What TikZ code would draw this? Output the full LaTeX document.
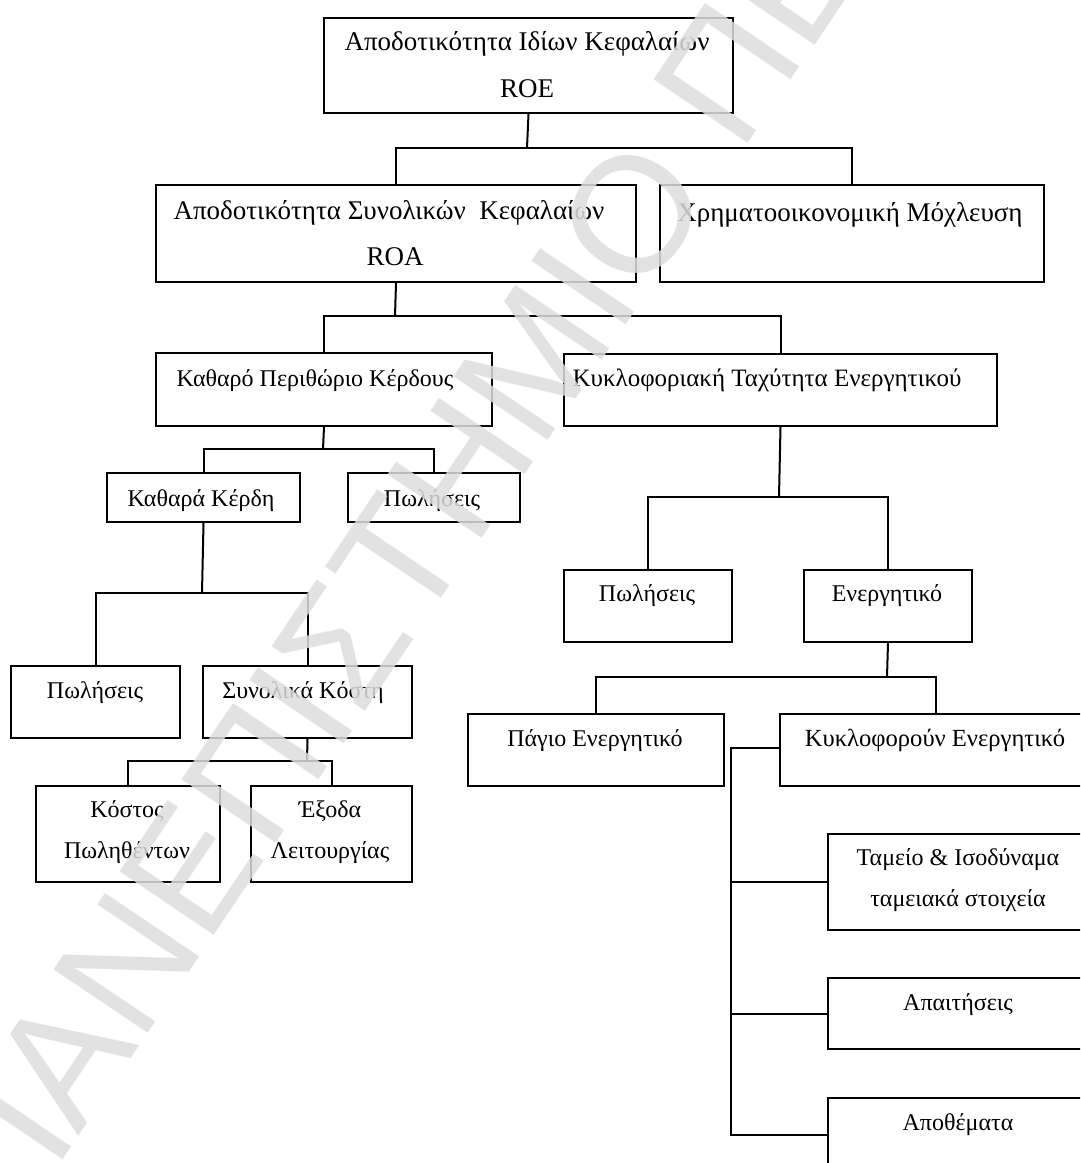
\documentclass[tikz,border=0pt]{standalone}
\usepackage{fontspec}
\setmainfont{Liberation Serif}
\newfontfamily\wmfont{Liberation Sans}
\begin{document}
\begin{tikzpicture}[x=1pt,y=-1pt,
  box/.style={draw, line width=2pt, inner sep=0pt, anchor=north west},
  lbl/.style={inner sep=0pt, anchor=base, font=\fontsize{24}{28}\selectfont},
  big/.style={font=\fontsize{27}{32}\selectfont},
  conn/.style={line width=2pt},
  wm/.style={inner sep=0pt, anchor=base west, text=black!13, text opacity=0.85,
             font=\wmfont\fontsize{165}{170}\selectfont}]
\useasboundingbox (0,0) rectangle (1080,1163);
\clip (0,0) rectangle (1080,1163);
\fill[white] (0,0) rectangle (1080,1163);

% boxes
\node[box, minimum width=409pt, minimum height=95pt] (roe) at (323,17) {};
\node[box, minimum width=480pt, minimum height=97pt] (roa) at (155,184) {};
\node[box, minimum width=384pt, minimum height=97pt] (lev) at (659,184) {};
\node[box, minimum width=336pt, minimum height=73pt] (kpk) at (155,352) {};
\node[box, minimum width=433pt, minimum height=72pt] (kte) at (563,353) {};
\node[box, minimum width=193pt, minimum height=49pt] (kk) at (106,472) {};
\node[box, minimum width=172pt, minimum height=49pt] (pwa) at (347,472) {};
\node[box, minimum width=168pt, minimum height=72pt] (pwb) at (563,569) {};
\node[box, minimum width=168pt, minimum height=72pt] (ene) at (803,569) {};
\node[box, minimum width=169pt, minimum height=72pt] (pwc) at (10,665) {};
\node[box, minimum width=209pt, minimum height=72pt] (sk) at (202,665) {};
\node[box, minimum width=184pt, minimum height=96pt] (kp) at (35,785) {};
\node[box, minimum width=161pt, minimum height=96pt] (el) at (250,785) {};
\node[box, minimum width=256pt, minimum height=72pt] (pag) at (467,713) {};
\node[box, minimum width=312pt, minimum height=72pt] (kyk) at (779,713) {};
\node[box, minimum width=263pt, minimum height=96pt] (tam) at (827,833) {};
\node[box, minimum width=263pt, minimum height=71pt] (apa) at (827,977) {};
\node[box, minimum width=263pt, minimum height=73pt] (apo) at (827,1097) {};

% labels
\node[lbl, big] (troe) at (527,50) {Αποδοτικότητα Ιδίων Κεφαλαίων};
\node[lbl, big] (troeb) at (527,97) {ROE};
\node[lbl, big] (troa) at (389,219) {Αποδοτικότητα Συνολικών~ Κεφαλαίων};
\node[lbl, big] (troab) at (395,265) {ROA};
\node[lbl, big] (tlev) at (850,221) {Χρηματοοικονομική Μόχλευση};
\node[lbl] (tkpk) at (315,386) {Καθαρό Περιθώριο Κέρδους};
\node[lbl, font=\fontsize{25}{30}\selectfont] (tkte) at (767,386) {Κυκλοφοριακή Ταχύτητα Ενεργητικού};
\node[lbl] (tkk) at (201,506) {Καθαρά Κέρδη};
\node[lbl] (tpwa) at (432,506) {Πωλήσεις};
\node[lbl] (tpwb) at (647,601) {Πωλήσεις};
\node[lbl] (tene) at (887,601) {Ενεργητικό};
\node[lbl] (tpwc) at (95,698) {Πωλήσεις};
\node[lbl] (tsk) at (303,698) {Συνολικά Κόστη};
\node[lbl] (tkp) at (127,817) {Κόστος};
\node[lbl] (tkpb) at (127,858) {Πωληθέντων};
\node[lbl] (tel) at (330,817) {Έξοδα};
\node[lbl] (telb) at (330,858) {Λειτουργίας};
\node[lbl] (tpag) at (595,746) {Πάγιο Ενεργητικό};
\node[lbl, font=\fontsize{24.6}{29}\selectfont] (tkyk) at (935,746) {Κυκλοφορούν Ενεργητικό};
\node[lbl] (ttam) at (958,865) {Ταμείο \& Ισοδύναμα};
\node[lbl] (ttamb) at (958,906) {ταμειακά στοιχεία};
\node[lbl] (tapa) at (958,1010) {Απαιτήσεις};
\node[lbl] (tapo) at (958,1130) {Αποθέματα};

% junction coordinates
\coordinate (j1) at (527,148);
\coordinate (j2) at (395,316);
\coordinate (j3) at (323,449);
\coordinate (j4) at (779,497);
\coordinate (j5) at (202,593);
\coordinate (j6) at (307,761);
\coordinate (j7) at (887,677);
\coordinate (j8) at (731,748);

% connectors
\draw[conn] (roe.south) -- (j1);
\draw[conn] (roa.north) -- (roa.north |- j1) -- (lev.north |- j1) -- (lev.north);
\draw[conn] (roa.south) -- (j2);
\draw[conn] (kpk.north) -- (kpk.north |- j2) -- (kte.north |- j2) -- (kte.north);
\draw[conn] (kpk.south) -- (j3);
\draw[conn] (kk.north) -- (kk.north |- j3) -- (pwa.north |- j3) -- (pwa.north);
\draw[conn] (kte.south) -- (j4);
\draw[conn] (pwb.north) -- (pwb.north |- j4) -- (ene.north |- j4) -- (ene.north);
\draw[conn] (kk.south) -- (j5);
\draw[conn] (pwc.north) -- (pwc.north |- j5) -- (sk.north |- j5) -- (sk.north);
\draw[conn] (sk.south) -- (j6);
\draw[conn] (kp.north) -- (kp.north |- j6) -- (el.north |- j6) -- (el.north);
\draw[conn] (ene.south) -- (j7);
\draw[conn] (pag.north) -- (pag.north |- j7) -- (kyk.north |- j7) -- (kyk.north);
\draw[conn] (kyk.west |- j8) -- (j8) -- (j8 |- apo.west) -- (apo.west);
\draw[conn] (j8 |- tam.west) -- (tam.west);
\draw[conn] (j8 |- apa.west) -- (apa.west);

% watermark
\node[wm, rotate=56] (wmark) at (12,1235) {ΠΑΝΕΠΙΣΤΗΜΙΟ ΠΕ};
\end{tikzpicture}
\end{document}
